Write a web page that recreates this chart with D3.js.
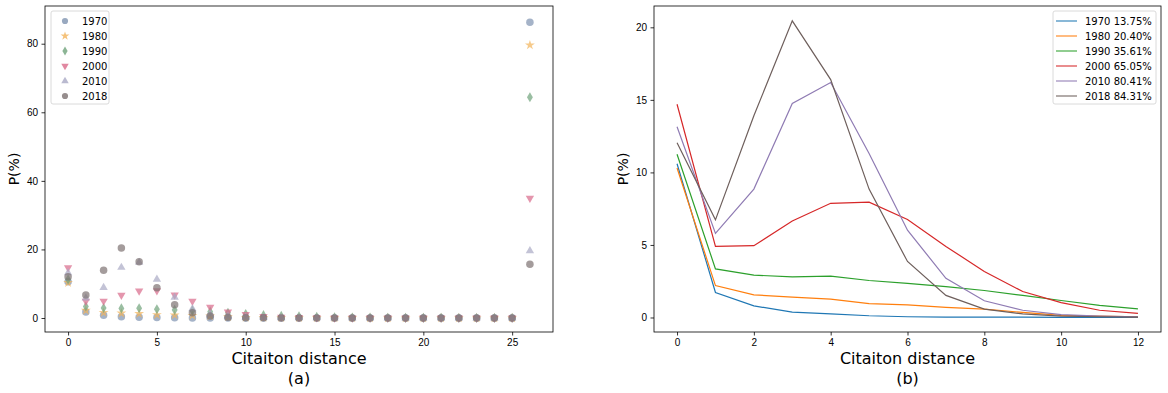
<!DOCTYPE html>
<html>
<head>
<meta charset="utf-8">
<script src="https://cdn.jsdelivr.net/npm/d3@7"></script>
<style>
  body { margin: 0; background: #fff; }
  svg { display: block; font-family: "DejaVu Sans", sans-serif; }
  .tick text { font-size: 10px; fill: #000; }
  .tick line { stroke: #000; stroke-width: 0.8; }
  .domain { display: none; }
</style>
</head>
<body>
<div id="chart"></div>
<script>
// Data
const years = ["1970", "1980", "1990", "2000", "2010", "2018"];
const shares = ["13.75%", "20.40%", "35.61%", "65.05%", "80.41%", "84.31%"];
const colors = ["#1f77b4", "#ff7f0e", "#2ca02c", "#d62728", "#8f7bb3", "#6e5f5c"];
const dotColors = ["#7f93b0", "#f2b35a", "#6fa37a", "#d96a8a", "#a9a9c4", "#7d7272"];

// distances 0..12 (panel b, also first part of panel a)
const near = [0, 1, 2, 3, 4, 5, 6, 7, 8, 9, 10, 11, 12];
const p1970 = [10.6, 1.72, 0.8, 0.37, 0.25, 0.12, 0.05, 0.03, 0.02, 0.02, 0.01, 0.01, 0.01];
const p1980 = [10.3, 2.2, 1.56, 1.4, 1.26, 0.95, 0.87, 0.7, 0.58, 0.35, 0.15, 0.1, 0.05];
const p1990 = [11.25, 3.35, 2.92, 2.8, 2.85, 2.55, 2.35, 2.13, 1.86, 1.52, 1.17, 0.83, 0.6];
const p2000 = [14.7, 4.9, 4.95, 6.65, 7.87, 7.95, 6.75, 4.9, 3.17, 1.79, 1.03, 0.5, 0.28];
const p2010 = [13.15, 5.8, 8.85, 14.75, 16.2, 11.3, 6.02, 2.7, 1.15, 0.5, 0.2, 0.1, 0.05];
const p2018 = [12.05, 6.73, 13.9, 20.45, 16.4, 8.85, 3.86, 1.52, 0.58, 0.25, 0.1, 0.05, 0.03];

// distances 13..25 (panel a only)
const far = [13, 14, 15, 16, 17, 18, 19, 20, 21, 22, 23, 24, 25];
const t1970 = [0.01, 0.01, 0.01, 0.0, 0.0, 0.0, 0.0, 0.0, 0.0, 0.0, 0.0, 0.0, 0.0];
const t1980 = [0.04, 0.03, 0.02, 0.02, 0.01, 0.01, 0.01, 0.0, 0.0, 0.0, 0.0, 0.0, 0.0];
const t1990 = [0.45, 0.32, 0.22, 0.15, 0.1, 0.07, 0.05, 0.03, 0.02, 0.01, 0.01, 0.01, 0.0];
const t2000 = [0.15, 0.08, 0.04, 0.02, 0.01, 0.01, 0.0, 0.0, 0.0, 0.0, 0.0, 0.0, 0.0];
const t2010 = [0.03, 0.02, 0.01, 0.01, 0.0, 0.0, 0.0, 0.0, 0.0, 0.0, 0.0, 0.0, 0.0];
const t2018 = [0.02, 0.01, 0.01, 0.0, 0.0, 0.0, 0.0, 0.0, 0.0, 0.0, 0.0, 0.0, 0.0];

// unconnected pairs, plotted at distance 26
const noPath = 26;
const unconnected = [86.25, 79.6, 64.39, 34.95, 19.59, 15.69];

const nearSeries = [p1970, p1980, p1990, p2000, p2010, p2018];
const farSeries = [t1970, t1980, t1990, t2000, t2010, t2018];

const xTicksA = [0, 5, 10, 15, 20, 25];
const yTicksA = [0, 20, 40, 60, 80];
const xTicksB = [0, 2, 4, 6, 8, 10, 12];
const yTicksB = [0, 5, 10, 15, 20];

// small, fairly round markers like the reference
const symbols = [
  d3.symbolCircle, d3.symbolStar, d3.symbolDiamond,
  d3.symbolTriangle, d3.symbolTriangle, d3.symbolCircle
];
const rotations = [0, 0, 0, 180, 0, 0];

// Layout
const width = 1168, height = 393;
const svg = d3.select("#chart").append("svg")
  .attr("width", width).attr("height", height);

const boxA = { x0: 45, x1: 553, y0: 6, y1: 332 };
const boxB = { x0: 654, x1: 1161, y0: 6, y1: 332 };

const xA = d3.scaleLinear().domain([-1.3, 27.3]).range([boxA.x0, boxA.x1]);
const yA = d3.scaleLinear().domain([-4.08, 91.0]).range([boxA.y1, boxA.y0]);
const xB = d3.scaleLinear().domain([-0.6, 12.6]).range([boxB.x0, boxB.x1]);
const yB = d3.scaleLinear().domain([-1.0, 21.47]).range([boxB.y1, boxB.y0]);

function axes(box, x, y, xt, yt, tag) {
  svg.append("g")
    .attr("transform", `translate(0,${box.y1})`)
    .call(d3.axisBottom(x).tickValues(xt).tickSize(3.5).tickPadding(3.5));
  svg.append("g")
    .attr("transform", `translate(${box.x0},0)`)
    .call(d3.axisLeft(y).tickValues(yt).tickSize(3.5).tickPadding(3.5));

  svg.append("rect")
    .attr("x", box.x0).attr("y", box.y0)
    .attr("width", box.x1 - box.x0).attr("height", box.y1 - box.y0)
    .attr("fill", "none").attr("stroke", "#000").attr("stroke-width", 0.8);

  const cx = (box.x0 + box.x1) / 2;
  svg.append("text")
    .attr("x", cx).attr("y", 364)
    .attr("text-anchor", "middle").attr("font-size", 16)
    .text("Citaiton distance");
  svg.append("text")
    .attr("x", cx).attr("y", 384)
    .attr("text-anchor", "middle").attr("font-size", 16)
    .text(tag);
  svg.append("text")
    .attr("transform", `translate(${box.x0 - 26},${(box.y0 + box.y1) / 2}) rotate(-90)`)
    .attr("text-anchor", "middle").attr("font-size", 14)
    .text("P(%)");
}

// Panel (a): scatter
axes(boxA, xA, yA, xTicksA, yTicksA, "(a)");

const gA = svg.append("g");
years.forEach((yr, i) => {
  const pts = near.map((d, k) => [d, nearSeries[i][k]])
    .concat(far.map((d, k) => [d, farSeries[i][k]]))
    .concat([[noPath, unconnected[i]]]);
  gA.append("g")
    .selectAll("path")
    .data(pts)
    .join("path")
    .attr("d", d3.symbol().type(symbols[i]).size(i === 0 || i === 5 ? 44 : 30))
    .attr("transform", (d) => `translate(${xA(d[0])},${yA(d[1])}) rotate(${rotations[i]})`)
    .attr("fill", dotColors[i])
    .attr("fill-opacity", 0.7);
});

// legend (a)
const legA = svg.append("g").attr("transform", "translate(51,11)");
legA.append("rect")
  .attr("width", 58).attr("height", 93).attr("rx", 2)
  .attr("fill", "#fff").attr("fill-opacity", 0.8)
  .attr("stroke", "#d0d0d0").attr("stroke-width", 0.8);
years.forEach((yr, i) => {
  const g = legA.append("g").attr("transform", `translate(0,${10 + i * 15})`);
  g.append("path")
    .attr("d", d3.symbol().type(symbols[i]).size(i === 0 || i === 5 ? 30 : 24))
    .attr("transform", `translate(14,0) rotate(${rotations[i]})`)
    .attr("fill", dotColors[i]).attr("fill-opacity", 0.8);
  g.append("text")
    .attr("x", 31).attr("y", 3.6).attr("font-size", 10)
    .text(yr);
});

// Panel (b): lines
axes(boxB, xB, yB, xTicksB, yTicksB, "(b)");

const line = d3.line().x((d) => xB(d[0])).y((d) => yB(d[1]));
years.forEach((yr, i) => {
  svg.append("path")
    .datum(near.map((d, k) => [d, nearSeries[i][k]]))
    .attr("d", line)
    .attr("fill", "none")
    .attr("stroke", colors[i])
    .attr("stroke-width", 1.2);
});

// legend (b)
const legB = svg.append("g").attr("transform", "translate(1053,11)");
legB.append("rect")
  .attr("width", 103).attr("height", 93).attr("rx", 2)
  .attr("fill", "#fff").attr("fill-opacity", 0.8)
  .attr("stroke", "#d0d0d0").attr("stroke-width", 0.8);
years.forEach((yr, i) => {
  const g = legB.append("g").attr("transform", `translate(0,${10 + i * 15})`);
  g.append("line")
    .attr("x1", 3).attr("x2", 24)
    .attr("stroke", colors[i]).attr("stroke-width", 1.5).attr("stroke-opacity", 0.7);
  g.append("text")
    .attr("x", 32).attr("y", 3.6).attr("font-size", 10)
    .text(`${yr} ${shares[i]}`);
});
</script>
</body>
</html>
